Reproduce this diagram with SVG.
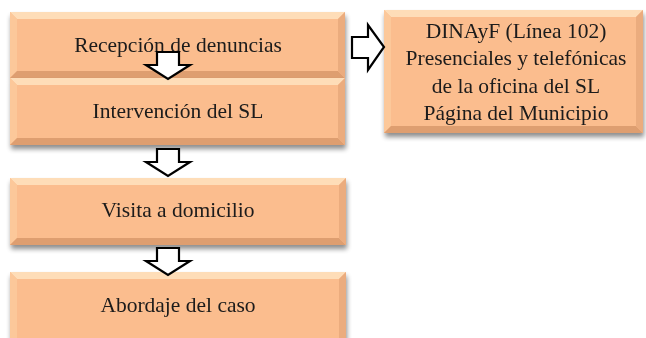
<svg xmlns="http://www.w3.org/2000/svg" width="646" height="338" viewBox="0 0 646 338">
<defs>
<style>
.face{fill:#FBBD8E}
.bt{fill:#FEDDB8}
.bl{fill:#FCC89A}
.bb{fill:#DE9E70}
.br{fill:#EBAC7E}
.lbl{font-family:"Liberation Serif","DejaVu Serif",serif;font-size:21.5px;fill:#1a1a1a;text-anchor:middle}
.arr{fill:#ffffff;stroke:#000000;stroke-width:2.2;stroke-linejoin:miter}
</style>
<filter id="sh" x="-5%" y="-10%" width="112%" height="130%">
<feGaussianBlur in="SourceAlpha" stdDeviation="2.5"/>
<feOffset dx="1" dy="4" result="b"/>
<feComponentTransfer><feFuncA type="linear" slope="0.45"/></feComponentTransfer>
<feMerge><feMergeNode/><feMergeNode in="SourceGraphic"/></feMerge>
</filter>
</defs>

<g id="n1" filter="url(#sh)">
<rect class="face" x="10" y="12" width="335" height="66"/>
<polygon class="bt" points="10,12 345,12 338,19 17,19"/>
<polygon class="bl" points="10,12 17,19 17,71 10,78"/>
<polygon class="bb" points="10,78 17,71 338,71 345,78"/>
<polygon class="br" points="345,12 345,78 338,71 338,19"/>
<rect class="face" x="17" y="19" width="321" height="52"/>
<text class="lbl" x="178" y="52">Recepción de denuncias</text>
</g>

<g id="n2" filter="url(#sh)">
<rect class="face" x="10" y="78" width="335" height="67"/>
<polygon class="bt" points="10,78 345,78 338,85 17,85"/>
<polygon class="bl" points="10,78 17,85 17,138 10,145"/>
<polygon class="bb" points="10,145 17,138 338,138 345,145"/>
<polygon class="br" points="345,78 345,145 338,138 338,85"/>
<rect class="face" x="17" y="85" width="321" height="53"/>
<text class="lbl" x="178" y="118">Intervención del SL</text>
</g>

<g id="n3" filter="url(#sh)">
<rect class="face" x="10" y="178" width="336" height="67"/>
<polygon class="bt" points="10,178 346,178 339,185 17,185"/>
<polygon class="bl" points="10,178 17,185 17,238 10,245"/>
<polygon class="bb" points="10,245 17,238 339,238 346,245"/>
<polygon class="br" points="346,178 346,245 339,238 339,185"/>
<rect class="face" x="17" y="185" width="322" height="53"/>
<text class="lbl" x="178" y="217">Visita a domicilio</text>
</g>

<g id="n4" filter="url(#sh)">
<rect class="face" x="10" y="272" width="336" height="76"/>
<polygon class="bt" points="10,272 346,272 339,279 17,279"/>
<polygon class="bl" points="10,272 17,279 17,348 10,348"/>
<polygon class="br" points="346,272 346,348 339,348 339,279"/>
<rect class="face" x="17" y="279" width="322" height="69"/>
<text class="lbl" x="178" y="312">Abordaje del caso</text>
</g>

<g id="n5" filter="url(#sh)">
<rect class="face" x="384" y="10" width="259" height="123"/>
<polygon class="bt" points="384,10 643,10 636,17 391,17"/>
<polygon class="bl" points="384,10 391,17 391,126 384,133"/>
<polygon class="bb" points="384,133 391,126 636,126 643,133"/>
<polygon class="br" points="643,10 643,133 636,126 636,17"/>
<rect class="face" x="391" y="17" width="245" height="109"/>
<text class="lbl" x="516" y="38">DINAyF (Línea 102)</text>
<text class="lbl" x="516" y="65">Presenciales y telefónicas</text>
<text class="lbl" x="516" y="93">de la oficina del SL</text>
<text class="lbl" x="516" y="120">Página del Municipio</text>
</g>

<g id="connectors">
<polygon class="arr" points="157,52 179,52 179,65 190,65 168,79 146,65 157,65"/>
<polygon class="arr" points="157,149 179,149 179,162 190,162 168,176 146,162 157,162"/>
<polygon class="arr" points="157,248 179,248 179,261 190,261 168,275 146,261 157,261"/>
<polygon class="arr" points="352,37 368,37 368,25 384,47 368,70 368,58 352,58"/>
</g>
</svg>
